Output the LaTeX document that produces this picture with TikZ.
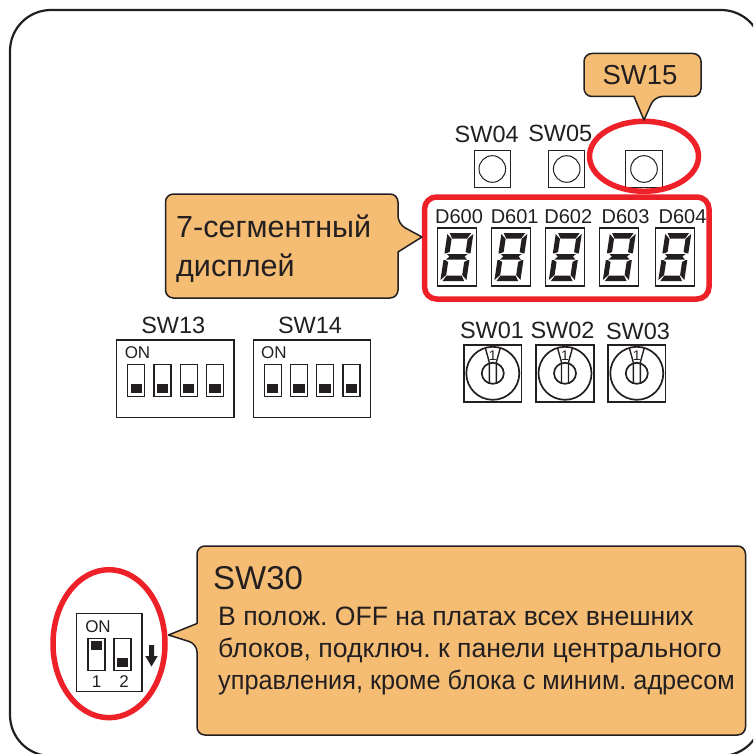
\documentclass[tikz,border=0pt]{standalone}
\usepackage{fontspec}
\setmainfont{Liberation Sans}
\frenchspacing
\definecolor{ink}{HTML}{231F20}
\definecolor{calloutfill}{HTML}{F5BD73}
\definecolor{ringred}{HTML}{EE2028}
\newcommand{\sdigit}[3]{%
\node[boxline,draw,minimum width=39pt,minimum height=58pt,inner sep=0pt] (#3) at (#1+19.5,#2+29) {};
\begin{scope}[shift={(#1+3,#2+53)}]
\begin{scope}[x=1pt,y=1pt,xslant=0.15]
\fill[ink] (2.2,48) -- (23.8,48) -- (20.5,42.5) -- (5.5,42.5) -- cycle;
\fill[ink] (2.2,0) -- (23.8,0) -- (20.5,5.5) -- (5.5,5.5) -- cycle;
\fill[ink] (2.5,21.5) -- (23.5,21.5) -- (20.5,24.5) -- (23.5,27) -- (2.5,27) -- (5.5,24.5) -- cycle;
\fill[ink] (0,47) -- (5,42) -- (5,29) -- (2,27.7) -- (0,27.7) -- cycle;
\fill[ink] (26,47) -- (21,42) -- (21,29) -- (24,27.7) -- (26,27.7) -- cycle;
\fill[ink] (0,1) -- (5,6) -- (5,19) -- (2,20.8) -- (0,20.8) -- cycle;
\fill[ink] (26,1) -- (21,6) -- (21,19) -- (24,20.8) -- (26,20.8) -- cycle;
\end{scope}
\end{scope}}
\newcommand{\rotary}[3]{%
\node[ink,draw,line width=1.6pt,minimum width=57.5pt,minimum height=57pt,inner sep=0pt] (#3) at (#1,#2) {};
\begin{scope}[shift={(#1,#2)}]
\draw[ink,line width=1.7pt] (0,0) circle[radius=26.5];
\draw[ink,line width=1.7pt] (0,0) ellipse[x radius=11,y radius=10.5];
\draw[ink,line width=1.4pt] (-7.5,-25.5) -- (-3.5,-11) -- (-3.5,10);
\draw[ink,line width=1.4pt] (7.5,-25.5) -- (3.5,-11) -- (3.5,10);
\node[font=\fontsize{14}{14}\selectfont,text=ink,inner sep=0pt] at (0,-17.5) {1};
\end{scope}}
\newcommand{\slider}[3]{%
\draw[boxline] (#1,#2) rectangle ++(17,32);
\fill[ink] (#1+2.8,#3) rectangle ++(11.4,9);}
\newcommand{\dipbox}[1]{%
\begin{scope}[xshift=#1pt]
\draw[boxline] (116.7,340) rectangle (234,417.7);
\node[onlabel] at (137.5,358) {ON};
\slider{127.7}{364.3}{384.3}
\slider{154}{364.3}{384.3}
\slider{180.2}{364.3}{384.3}
\slider{206.5}{364.3}{384.3}
\end{scope}}
\tikzset{
 boxline/.style={ink,line width=1.2pt},
 ring/.style={draw=ringred,line width=5.5pt},
 bubble/.style={draw=ink,fill=calloutfill,line width=1.5pt,rounded corners=8pt,line join=round},
 swlabel/.style={font=\fontsize{23.5}{24}\selectfont,text=ink,anchor=base,inner sep=0pt},
 dlabel/.style={font=\fontsize{20}{20}\selectfont,text=ink,anchor=base,inner sep=0pt},
 onlabel/.style={font=\fontsize{17}{17}\selectfont,text=ink,anchor=base,inner sep=0pt},
 bubbletext/.style={font=\fontsize{30.5}{31}\selectfont,text=ink,anchor=base west,inner sep=0pt},
 bodytext/.style={font=\fontsize{26.6}{27}\selectfont,text=ink,anchor=base west,inner sep=0pt},
}
\begin{document}
\begin{tikzpicture}[x=1pt,y=-1pt]
\useasboundingbox (0,0) rectangle (753,754);
\clip (0,0) rectangle (753,754);
\draw[ink,line width=2.2pt,rounded corners=41pt] (10,10) rectangle (762,756);
% buttons
\node[swlabel] (l04) at (486.7,142.5) {SW04};
\node[swlabel] (l05) at (560.3,141.5) {SW05};
\foreach \n/\cx in {b04/492.3,b05/566.7,b15/644}{
 \node[draw=ink,line width=1pt,minimum size=36.5pt,inner sep=0pt] (\n) at (\cx,169) {};
 \draw[ink,line width=1pt] (\cx,169) circle[radius=13.3];
}
% rings
\draw[ring] (644,156.3) ellipse[x radius=54.5,y radius=35];
\draw[ring,rounded corners=12pt] (424.5,197) rectangle (709,299);
% SW15 callout
\draw[bubble] (584,53.5) -- (701,53.5) -- (701,96.5) -- (654.5,96.5) [sharp corners] -- (644,120) -- (634,96.5) [rounded corners=8pt] -- (584,96.5) -- cycle;
\node[font=\fontsize{27.5}{28}\selectfont,text=ink,anchor=base,inner sep=0pt] (t15) at (640,85) {SW15};
% display callout
\draw[bubble] (165.5,194) -- (398,194) -- (398,224) [sharp corners] -- (422,237) -- (398,252) [rounded corners=8pt] -- (398,298) -- (165.5,298) -- cycle;
\node[bubbletext] (t7a) at (176,237) {7-сегментный};
\node[bubbletext] (t7b) at (176,276) {дисплей};
% digits
\node[dlabel] (d0) at (459,223) {D600};
\node[dlabel] (d1) at (514.7,223) {D601};
\node[dlabel] (d2) at (568.3,223) {D602};
\node[dlabel] (d3) at (625.5,223) {D603};
\node[dlabel] (d4) at (682.5,223) {D604};
\sdigit{437.3}{228}{s0}
\sdigit{491.3}{228}{s1}
\sdigit{545.7}{228}{s2}
\sdigit{599.7}{228}{s3}
\sdigit{655.2}{228}{s4}
% rotary
\node[swlabel] (l01) at (492,338) {SW01};
\node[swlabel] (l02) at (562.5,338) {SW02};
\node[swlabel] (l03) at (638,339.5) {SW03};
\rotary{492.8}{373.3}{r1}
\rotary{565}{373.3}{r2}
\rotary{636.8}{373.3}{r3}
% dip
\node[swlabel] (l13) at (173.3,333) {SW13};
\node[swlabel] (l14) at (310,333) {SW14};
\dipbox{0}
\dipbox{136.4}
% SW30 callout
\draw[bubble] (197,546) -- (745.5,546) -- (745.5,735) -- (197,735) -- (197,644) [sharp corners] -- (168.5,635) -- (197,623.5) [rounded corners=8pt] -- cycle;
\node[font=\fontsize{33}{33}\selectfont,text=ink,anchor=base west,inner sep=0pt] (t30) at (213,589) {SW30};
\node[bodytext] (b1) at (218,625) {В полож. OFF на платах всех внешних};
\node[bodytext] (b2) at (218,657) {блоков, подключ. к панели центрального};
\node[bodytext,xscale=0.95] (b3) at (218,689) {управления, кроме блока с миним. адресом};
% SW30 dip
\draw[ring] (109,643.7) ellipse[x radius=56,y radius=74];
\draw[boxline] (76.7,613.3) rectangle (142,691.7);
\node[onlabel] at (98,632.3) {ON};
\slider{88}{638.3}{641}
\slider{114}{638.3}{658}
\node[onlabel] at (96.7,687) {1};
\node[onlabel] at (124,687) {2};
\fill[ink] (149,645) -- (154,645) -- (154,656) -- (157.7,656) -- (151.5,666.5) -- (145.3,656) -- (149,656) -- cycle;
\end{tikzpicture}
\end{document}
